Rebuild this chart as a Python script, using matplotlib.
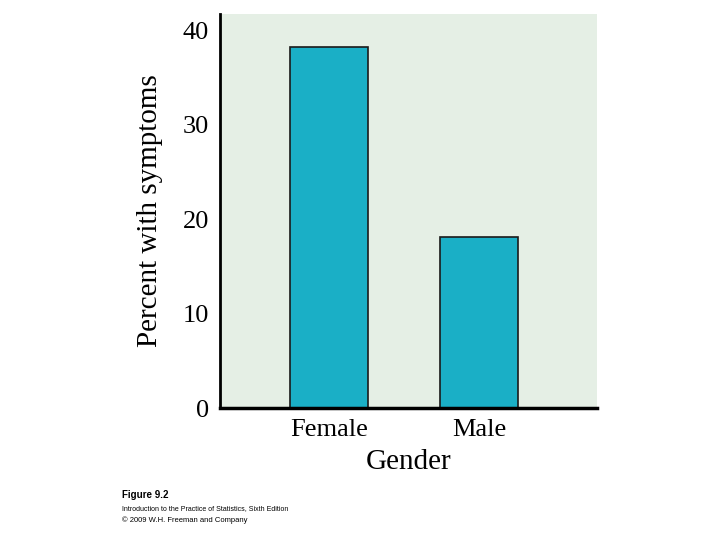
import matplotlib
matplotlib.use("Agg")
import matplotlib.pyplot as plt

categories = ["Female", "Male"]
values = [38.2, 18.1]
yticks = [0, 10, 20, 30, 40]

fig = plt.figure(figsize=(7.2, 5.4), dpi=100)
ax = fig.add_axes([0.3056, 0.2444, 0.5236, 0.7296])
ax.set_facecolor("#e5efe5")
ax.bar(range(len(categories)), values, width=0.52, color="#1aafc6", edgecolor="#1a1a1a", linewidth=1.2)
ax.set_xlim(-0.727, 1.787)
ax.set_ylim(0, 41.7)
ax.set_yticks(yticks)
ax.set_xticks(range(len(categories)))
ax.set_xticklabels(categories)
for s in ["top", "right"]:
    ax.spines[s].set_visible(False)
ax.spines["left"].set_linewidth(2)
ax.spines["bottom"].set_linewidth(2.5)
ax.tick_params(length=0, labelsize=19, pad=8)
for lab in ax.get_xticklabels() + ax.get_yticklabels():
    lab.set_family("Liberation Serif")
ax.set_ylabel("Percent with symptoms", fontsize=21, family="Liberation Serif", labelpad=14)
ax.set_xlabel("Gender", fontsize=21, family="Liberation Serif", labelpad=6)

fig.text(0.169, 0.078, "Figure 9.2", fontsize=7, weight="bold", family="Liberation Sans")
fig.text(0.169, 0.056, "Introduction to the Practice of Statistics, Sixth Edition", fontsize=5, family="Liberation Sans")
fig.text(0.169, 0.033, "© 2009 W.H. Freeman and Company", fontsize=5.5, family="Liberation Sans")
fig.savefig("out.png", dpi=100)
